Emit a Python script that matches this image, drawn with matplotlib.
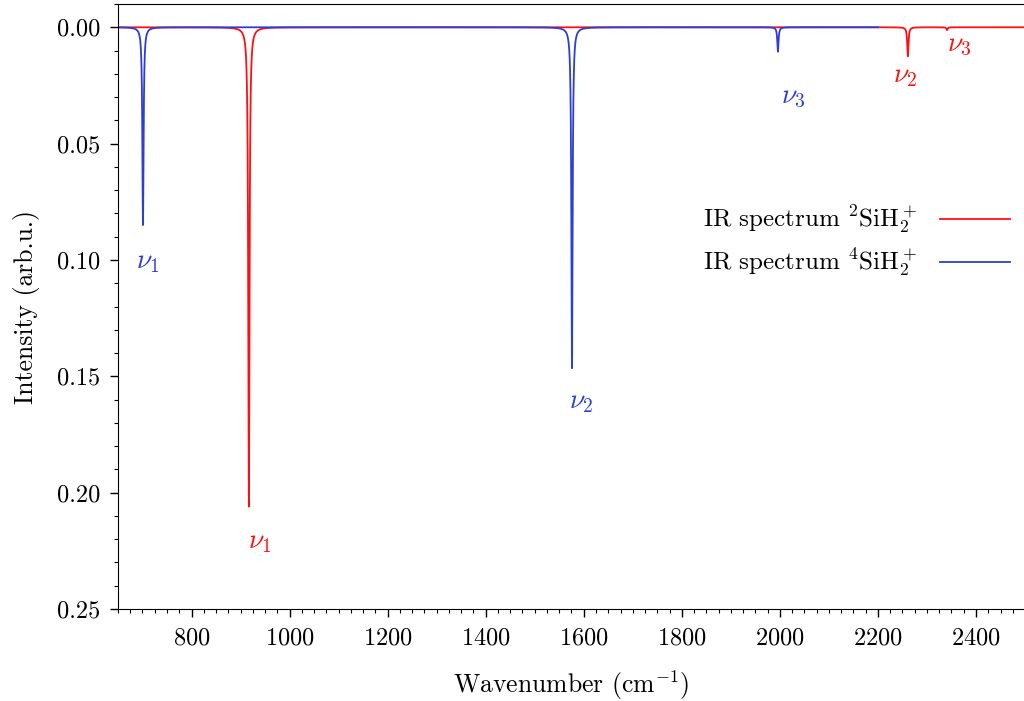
import matplotlib
matplotlib.use('Agg')
import matplotlib.pyplot as plt
import numpy as np
from matplotlib.ticker import MultipleLocator

plt.rcParams['font.family'] = 'serif'
plt.rcParams['font.serif'] = ['cmr10']
plt.rcParams['mathtext.fontset'] = 'cm'
plt.rcParams['axes.formatter.use_mathtext'] = True
plt.rcParams['font.size'] = 17.5

# peak positions (cm^-1) and intensities
doublet_pos = [917, 2261, 2341]
doublet_int = [0.206, 0.0125, 0.0012]
quartet_pos = [701, 1576, 1996]
quartet_int = [0.085, 0.1465, 0.0105]
doublet_range = (650, 2500)
quartet_range = (650, 2200)

# label positions for the nu annotations
doublet_lbl_x = [940, 2255, 2366]
doublet_lbl_y = [0.221, 0.021, 0.0077]
quartet_lbl_x = [711, 1595, 2028]
quartet_lbl_y = [0.101, 0.161, 0.030]
mode_names = [r'$\nu_1$', r'$\nu_2$', r'$\nu_3$']

gamma = 1.5  # half width of the lorentzian broadening


def spectrum(pos, inten, lo, hi):
    x = np.linspace(lo, hi, 40001)
    y = np.zeros_like(x)
    for p, a in zip(pos, inten):
        y += a * gamma**2 / ((x - p)**2 + gamma**2)
    return x, y


red = '#ff1010'
blue = '#2c3ed6'

fig = plt.figure(figsize=(10.24, 7.01), dpi=100)
ax = fig.add_axes([0.1152, 0.1312, 0.8858, 0.8631])

x2, y2 = spectrum(doublet_pos, doublet_int, *doublet_range)
x4, y4 = spectrum(quartet_pos, quartet_int, *quartet_range)
ax.plot(x2, y2, color=red, lw=1.3, label=r'IR spectrum $^2$SiH$_2^+$')
ax.plot(x4, y4, color=blue, lw=1.3, label=r'IR spectrum $^4$SiH$_2^+$')

for n, xx, yy in zip(mode_names, doublet_lbl_x, doublet_lbl_y):
    ax.text(xx, yy, n, color=red, fontsize=20, ha='center', va='center')
for n, xx, yy in zip(mode_names, quartet_lbl_x, quartet_lbl_y):
    ax.text(xx, yy, n, color=blue, fontsize=20, ha='center', va='center')

ax.set_xlim(650, 2500)
ax.set_ylim(0.25, -0.01)
ax.xaxis.set_major_locator(MultipleLocator(200))
ax.xaxis.set_minor_locator(MultipleLocator(25))
ax.yaxis.set_major_locator(MultipleLocator(0.05))
ax.yaxis.set_minor_locator(MultipleLocator(0.01))
ax.yaxis.set_major_formatter(matplotlib.ticker.FormatStrFormatter('%.2f'))
ax.tick_params(which='major', length=6, width=1, labelsize=17.5, pad=7)
ax.tick_params(which='minor', length=3, width=0.8)
ax.spines['right'].set_visible(False)

ax.set_xlabel(r'Wavenumber (cm$^{-1}$)', fontsize=18.5, labelpad=14)
ax.set_ylabel('Intensity (arb.u.)', fontsize=18.5, labelpad=12)
ax.legend(loc='center right', bbox_to_anchor=(1.0, 0.607), frameon=False,
          markerfirst=False, fontsize=18, handlelength=2.8, labelspacing=0.45,
          borderaxespad=0.2, handletextpad=0.9)

fig.savefig('out.png', dpi=100)
